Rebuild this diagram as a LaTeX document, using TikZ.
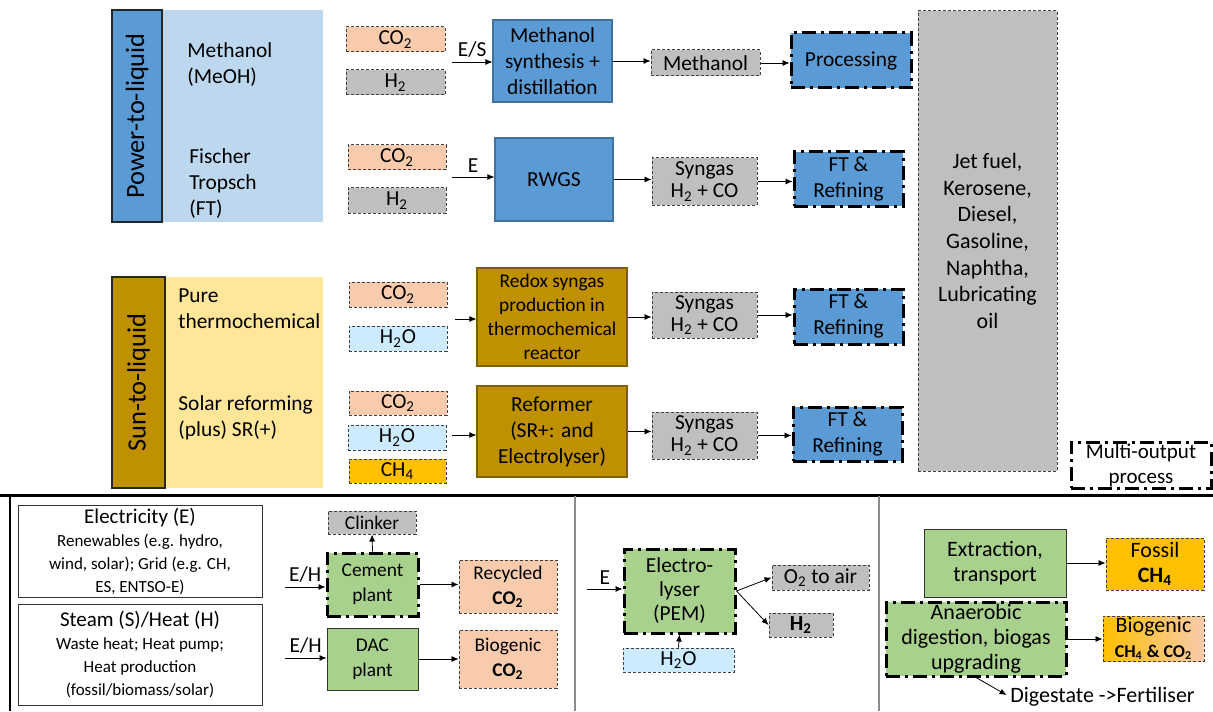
\documentclass[tikz,border=0pt]{standalone}
\usepackage{fontspec}
\setmainfont{Carlito}
\usetikzlibrary{arrows.meta}
\definecolor{ptlblue}{HTML}{5B9BD5}
\definecolor{ptlline}{HTML}{41719C}
\definecolor{ptlpanel}{HTML}{BDD7EE}
\definecolor{stlgold}{HTML}{BF9000}
\definecolor{stlline}{HTML}{7F6000}
\definecolor{stlpanel}{HTML}{FFE699}
\definecolor{peach}{HTML}{F8CBAD}
\definecolor{gasgray}{HTML}{BFBFBF}
\definecolor{wtr}{HTML}{CDEBFF}
\definecolor{methane}{HTML}{FFC000}
\definecolor{plant}{HTML}{A9D18E}
\newcommand\mfont{\fontsize{10.7}{13}\selectfont}
\newcommand\sidefont{\fontsize{13.2}{15}\selectfont}
\newcommand\redoxfont{\fontsize{9.7}{12}\selectfont}
\newcommand\lowfont{\fontsize{9.7}{12.5}\selectfont}
\newcommand\bigfont{\fontsize{11}{12.5}\selectfont}
\newcommand\notefont{\fontsize{8.5}{11.5}\selectfont}
\tikzset{
  rectat/.style args={#1/#2/#3/#4}{at={({(#1+#3)/2},{(#2+#4)/2})},
    minimum width={(#3-#1)*0.5pt}, minimum height={(#4-#2)*0.5pt}},
  box/.style={inner sep=0pt, align=center, font=\mfont},
  lbl/.style={inner sep=0pt, align=left, font=\mfont},
  panel/.style={inner sep=0pt, draw=none},
  side/.style={inner sep=0pt, draw=black!85, line width=0.8pt},
  flow/.style={box, draw=black!75, line width=0.5pt, dash pattern=on 1.5pt off 1pt},
  multi/.style={box, draw=black, line width=1.5pt, dash pattern=on 7pt off 2.5pt on 1.5pt off 2.5pt},
  proc/.style={box, draw=ptlline, fill=ptlblue, line width=0.6pt},
  gold/.style={box, draw=stlline, fill=stlgold, line width=0.6pt, font=\redoxfont},
  supply/.style={box, draw=black!80, line width=0.5pt},
  arr/.style={-{Latex[length=3.5pt,width=3pt]}, line width=0.4pt},
}
\begin{document}
\begin{tikzpicture}[x=0.5pt, y=-0.5pt]
  \useasboundingbox (0,0) rectangle (1213,711);
  % power-to-liquid
  \node[panel, fill=ptlpanel, rectat=162/10/323/222] (ptlbg) {};
  \node[side, fill=ptlblue, rectat=112/10/162/222] (ptl) {};
  \node[rotate=90, font=\sidefont, inner sep=0pt] (ptltxt) at (ptl.center) {Power-to-liquid};
  \node[lbl, anchor=west] (meoh) at (187,65) {Methanol\\(MeOH)};
  \node[lbl, anchor=west] (ftlbl) at (189,184) {Fischer\\Tropsch\\(FT)};
  % methanol route
  \node[flow, fill=peach, rectat=346/27/445/52] (co2a) {CO\textsubscript{2}};
  \node[flow, fill=gasgray, rectat=346/70/445/95] (h2a) {H\textsubscript{2}};
  \coordinate (esin) at (452,62);
  \node[proc, rectat=493/20/612/102] (msyn) {Methanol\\synthesis +\\distillation};
  \node[flow, fill=gasgray, rectat=651/50/760/76] (meth) {Methanol};
  \node[multi, fill=ptlblue, rectat=791/33/911/88] (proc1) {Processing};
  \draw[arr] (esin) -- node[above, box, inner sep=2pt] {E/S} (esin -| msyn.west);
  \draw[arr] (msyn.east) -- (msyn.east -| meth.west);
  \draw[arr] (meth.east) -- (meth.east -| proc1.west);
  % fischer tropsch route
  \node[flow, fill=peach, rectat=348/145/446/170] (co2b) {CO\textsubscript{2}};
  \node[flow, fill=gasgray, rectat=348/188/446/213] (h2b) {H\textsubscript{2}};
  \coordinate (ein) at (452,177);
  \node[proc, rectat=495/138/613/221] (rwgs) {RWGS};
  \node[flow, fill=gasgray, rectat=652/158/757/205, font=\fontsize{10.7}{11}\selectfont] (syn1) {Syngas\\H\textsubscript{2} + CO};
  \node[multi, fill=ptlblue, rectat=794/152/903/206] (ft1) {FT \&\\Refining};
  \draw[arr] (ein) -- node[above, box, inner sep=2pt] {E} (ein -| rwgs.west);
  \draw[arr] (rwgs.east) -- (rwgs.east -| syn1.west);
  \draw[arr] (syn1.east) -- (syn1.east -| ft1.west);
  % products
  \node[flow, fill=gasgray, rectat=918/11/1057/471, font=\fontsize{11}{13.3}\selectfont] (fuel) {Jet fuel,\\Kerosene,\\Diesel,\\Gasoline,\\Naphtha,\\Lubricating\\oil};
  % sun-to-liquid
  \node[panel, fill=stlpanel, rectat=165/277/323/488] (stlbg) {};
  \node[side, fill=stlgold, rectat=112/277/165/488] (stl) {};
  \node[rotate=90, font=\sidefont, inner sep=0pt] (stltxt) at (stl.center) {Sun-to-liquid};
  \node[lbl, anchor=west] (pure) at (178,309) {Pure\\thermochemical};
  \node[lbl, anchor=west] (srlbl) at (178,418) {Solar reforming\\(plus) SR(+)};
  % thermochemical route
  \node[flow, fill=peach, rectat=349/282/447/307] (co2c) {CO\textsubscript{2}};
  \node[flow, fill=wtr, rectat=349/326/447/351] (h2oc) {H\textsubscript{2}O};
  \coordinate (tin) at (455,319);
  \node[gold, rectat=477/268/627/366] (redox) {Redox syngas\\production in\\thermochemical\\reactor};
  \node[flow, fill=gasgray, rectat=652/292/757/338, font=\fontsize{10.7}{11}\selectfont] (syn2) {Syngas\\H\textsubscript{2} + CO};
  \node[multi, fill=ptlblue, rectat=794/289/903/344] (ft2) {FT \&\\Refining};
  \draw[arr] (tin) -- (tin -| redox.west);
  \draw[arr] (redox.east) -- (redox.east -| syn2.west);
  \draw[arr] (syn2.east) -- (syn2.east -| ft2.west);
  % solar reforming route
  \node[flow, fill=peach, rectat=349/391/447/415] (co2d) {CO\textsubscript{2}};
  \node[flow, fill=wtr, rectat=348/425/446/450] (h2od) {H\textsubscript{2}O};
  \node[flow, fill=methane, rectat=349/459/446/483] (ch4d) {CH\textsubscript{4}};
  \coordinate (rin) at (452,435);
  \node[gold, rectat=477/386/627/477, font=\mfont] (reform) {Reformer\\(SR+: and\\Electrolyser)};
  \node[flow, fill=gasgray, rectat=652/412/757/459, font=\fontsize{10.7}{11}\selectfont] (syn3) {Syngas\\H\textsubscript{2} + CO};
  \node[multi, fill=ptlblue, rectat=793/407/902/461] (ft3) {FT \&\\Refining};
  \draw[arr] (rin) -- (rin -| reform.west);
  \draw[arr] (reform.east) -- (reform.east -| syn3.west);
  \draw[arr] (syn3.east) -- (syn3.east -| ft3.west);
  % legend
  \node[multi, fill=white, rectat=1071/442/1211/488, font=\fontsize{10.5}{12.5}\selectfont] (lgd) {Multi-output\\process};
  % bottom frame
  \draw[line width=1.5pt] (0,495) -- (1213,495);
  \draw[line width=0.8pt] (10,495) -- (10,711);
  \draw[black!45, line width=0.6pt] (575,496) -- (575,711);
  \draw[black!45, line width=0.6pt] (879,496) -- (879,711);
  % energy supply
  \node[supply, rectat=18/505/262/597, font=\notefont] (elec) {{\fontsize{10.5}{12}\selectfont Electricity (E)}\\Renewables (e.g. hydro,\\wind, solar); Grid (e.g. CH,\\ES, ENTSO-E)};
  \node[supply, rectat=18/604/262/705, font=\notefont] (heat) {{\fontsize{10.5}{13}\selectfont Steam (S)/Heat (H)}\\Waste heat; Heat pump;\\Heat production\\(fossil/biomass/solar)};
  % co2 sources
  \node[flow, fill=gasgray, rectat=328/511/416/534, font=\lowfont] (clinker) {Clinker};
  \node[multi, fill=plant, rectat=327/553/418/616, font=\lowfont] (cement) {Cement\\plant};
  \node[flow, fill=peach, rectat=459/560/557/613, font=\lowfont] (recyc) {Recycled\\\textbf{CO\textsubscript{2}}};
  \node[supply, fill=plant, rectat=327/628/418/690, font=\lowfont] (dac) {DAC\\plant};
  \node[flow, fill=peach, rectat=459/630/557/688, font=\lowfont] (biogco2) {Biogenic\\\textbf{CO\textsubscript{2}}};
  \coordinate (ehin1) at (285,587);
  \coordinate (ehin2) at (285,658);
  \draw[arr] (cement.north) -- (clinker.south);
  \draw[arr] (ehin1) -- node[above, box, inner sep=2pt] {E/H} (ehin1 -| cement.west);
  \draw[arr] (ehin2) -- node[above, box, inner sep=2pt] {E/H} (ehin2 -| dac.west);
  \draw[arr] (cement.east) -- (cement.east -| recyc.west);
  \draw[arr] (dac.east) -- (dac.east -| biogco2.west);
  % hydrogen source
  \node[multi, fill=plant, rectat=624/549/735/633, font=\fontsize{10.7}{12}\selectfont] (elyser) {Electro-\\lyser\\(PEM)};
  \node[flow, fill=wtr, rectat=623/648/734/672] (h2oe) {H\textsubscript{2}O};
  \node[flow, fill=gasgray, rectat=772/565/869/590] (o2) {O\textsubscript{2} to air};
  \node[flow, fill=gasgray, rectat=769/613/833/637] (h2e) {\textbf{H\textsubscript{2}}};
  \coordinate (ein2) at (587,589);
  \draw[arr] (ein2) -- node[above, box, inner sep=2pt] {E} (ein2 -| elyser.west);
  \draw[arr] (h2oe.north) -- (elyser.south);
  \draw[arr] (elyser.east) -- (o2.west);
  \draw[arr] (elyser.east) -- (h2e.west);
  % methane sources
  \node[supply, fill=plant, rectat=924/529/1066/597, font=\bigfont] (extr) {Extraction,\\transport};
  \node[flow, fill=methane, rectat=1106/538/1204/590, font=\bigfont] (fossil) {Fossil\\\textbf{CH\textsubscript{4}}};
  \node[multi, fill=plant, rectat=886/602/1066/676, font=\bigfont] (anaer) {Anaerobic\\digestion, biogas\\upgrading};
  \node[flow, left color=methane, right color=peach, rectat=1103/616/1204/661, font=\bigfont] (biogch4) {Biogenic\\{\fontsize{9}{11}\selectfont\bfseries CH\textsubscript{4} \& CO\textsubscript{2}}};
  \node[lbl, anchor=west, font=\bigfont] (dig) at (1010,697) {Digestate ->Fertiliser};
  \draw[arr] (extr.east) -- (extr.east -| fossil.west);
  \draw[arr] (anaer.east) -- (anaer.east -| biogch4.west);
  \draw[arr, shorten >=2pt] (anaer.south) -- (dig.west);
\end{tikzpicture}
\end{document}
